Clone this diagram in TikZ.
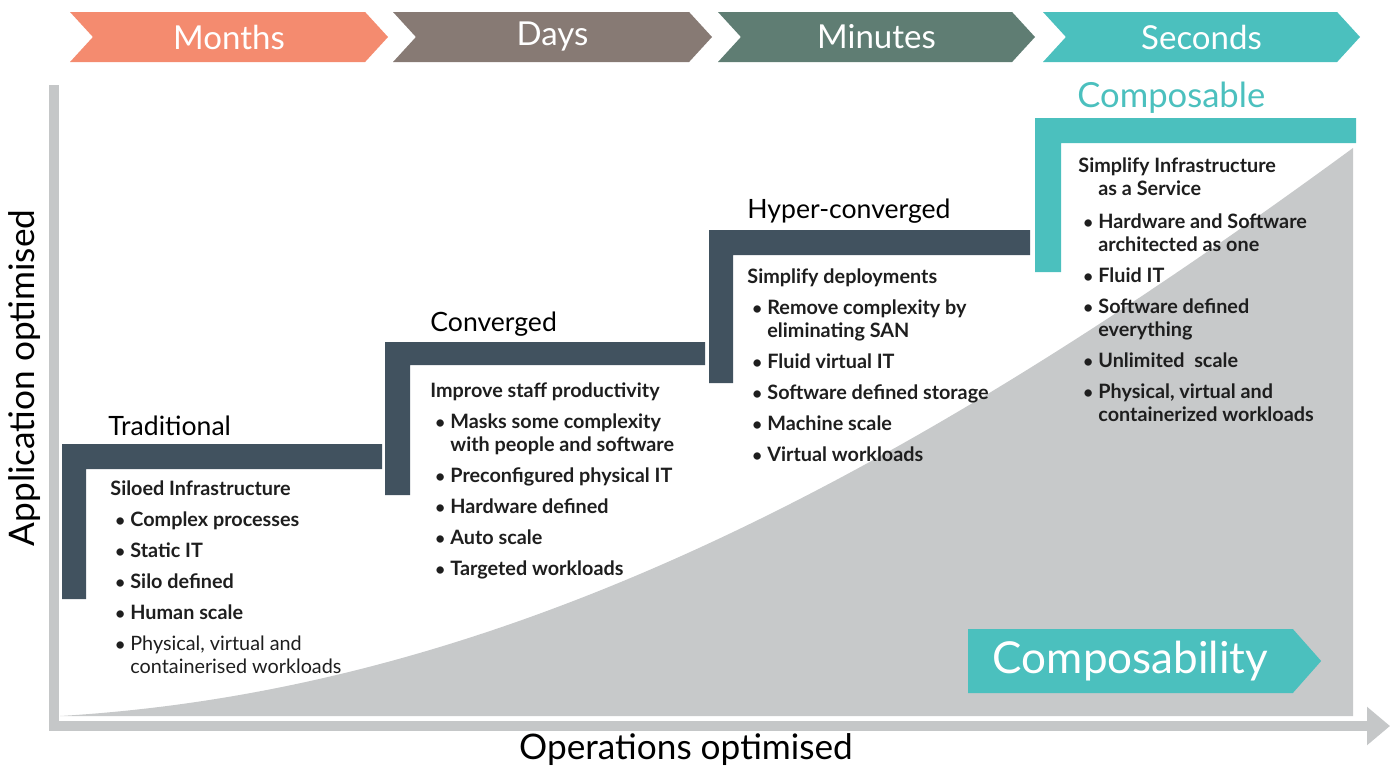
\documentclass[tikz,border=0pt]{standalone}
\usepackage{fontspec}
\setmainfont{Lato}
\usepackage{xcolor}
\usetikzlibrary{shapes.symbols,arrows.meta}

\definecolor{monthsc}{HTML}{F48B6F}
\definecolor{daysc}{HTML}{877A74}
\definecolor{minutesc}{HTML}{5F7D73}
\definecolor{secondsc}{HTML}{4BC0BE}
\definecolor{slate}{HTML}{41525F}
\definecolor{shadec}{HTML}{C7C9CA}
\definecolor{axisc}{HTML}{C5C7C8}
\definecolor{bodyc}{HTML}{1E1E1E}

\newcommand{\bul}{\makebox[10pt][l]{\hspace{2.5pt}\scalebox{0.85}{\textbullet}}}
\newcommand{\cont}{\hspace*{10pt}}

\tikzset{
  chev/.style={signal, signal to=east, signal from=west, signal pointer angle=95,
    minimum height=25pt, inner sep=0pt, text=white, font=\fontsize{16.5}{19}\selectfont},
  stage/.style={anchor=base west, inner sep=0pt, text=black, font=\fontsize{13.3}{16}\selectfont},
  blist/.style={anchor=base west, inner sep=0pt, text=bodyc, font=\fontsize{9.9}{11.5}\selectfont\bfseries},
  axlab/.style={inner sep=0pt, text=black, font=\fontsize{17.6}{21}\selectfont},
}

\begin{document}
\begin{tikzpicture}[x=0.5pt,y=-0.5pt]

\useasboundingbox (0,0) rectangle (1397,771);

\node[chev, fill=monthsc, minimum width=159pt] (months) at (229,37) {Months};
\node[chev, fill=daysc, minimum width=159.5pt] (days) at (552.5,37) {Days};
\node[chev, fill=minutesc, minimum width=158.5pt] (minutes) at (876.5,37) {Minutes};
\node[chev, fill=secondsc, minimum width=158.5pt] (seconds) at (1201.5,37) {Seconds};

\fill[shadec] (60,716) .. controls (500,690) and (900,480) .. (1353,148) -- (1353,716) -- cycle;

\coordinate (ytop) at (54,85);
\coordinate (orig) at (54,726);
\coordinate (xend) at (1390,726);
\draw[axisc, line width=5pt, -{Triangle[length=11.5pt,width=18.5pt]}] (ytop) -- (orig) -- (xend);

\fill[slate] (62,444) -- (382,444) -- (382,469) -- (86,469) -- (86,599) -- (62,599) -- cycle;
\fill[slate] (385,342) -- (705,342) -- (705,365) -- (410,365) -- (410,495) -- (385,495) -- cycle;
\fill[slate] (709,230) -- (1030,230) -- (1030,255) -- (733,255) -- (733,383) -- (709,383) -- cycle;
\fill[secondsc] (1035,118) -- (1356,118) -- (1356,143) -- (1061,143) -- (1061,272) -- (1035,272) -- cycle;

\node[stage] (trad) at (108,435) {Traditional};
\node[stage] (conv) at (430,331) {Converged};
\node[stage] (hyper) at (747,218) {Hyper-converged};
\node[stage, text=secondsc, font=\fontsize{17.3}{20}\selectfont] (comp) at (1077,107) {Composable};

\node[blist] (tradlist) at (110,495) {\begin{tabular}[t]{@{}l@{}}
Siloed Infrastructure\\[4pt]
\bul Complex processes\\[4pt]
\bul Static IT\\[4pt]
\bul Silo defined\\[4pt]
\bul Human scale\\[4pt]
\bul\mdseries Physical, virtual and\\
\cont\mdseries containerised workloads
\end{tabular}};

\node[blist] (convlist) at (430,397) {\begin{tabular}[t]{@{}l@{}}
Improve staff productivity\\[4pt]
\bul Masks some complexity\\
\cont with people and software\\[4pt]
\bul Preconfigured physical IT\\[4pt]
\bul Hardware defined\\[4pt]
\bul Auto scale\\[4pt]
\bul Targeted workloads
\end{tabular}};

\node[blist] (hyperlist) at (747,283) {\begin{tabular}[t]{@{}l@{}}
Simplify deployments\\[4pt]
\bul Remove complexity by\\
\cont eliminating SAN\\[4pt]
\bul Fluid virtual IT\\[4pt]
\bul Software defined storage\\[4pt]
\bul Machine scale\\[4pt]
\bul Virtual workloads
\end{tabular}};

\node[blist] (complist) at (1078,172) {\begin{tabular}[t]{@{}l@{}}
Simplify Infrastructure\\
\cont as a Service\\[5pt]
\bul Hardware and Software\\
\cont architected as one\\[4pt]
\bul Fluid IT\\[4pt]
\bul Software defined\\
\cont everything\\[4pt]
\bul Unlimited\ \ scale\\[4pt]
\bul Physical, virtual and\\
\cont containerized workloads
\end{tabular}};

\node[signal, signal to=east, signal pointer angle=97, fill=secondsc, minimum width=176.5pt,
  minimum height=32pt, inner sep=0pt, text=white, font=\fontsize{22}{26}\selectfont]
  (compty) at (1130.5,661) {Composability\hspace{17pt}};

\node[axlab] (xlab) at (686,750) {Operations optimised};
\node[axlab, rotate=90] (ylab) at (25,378) {Application optimised};

\end{tikzpicture}
\end{document}
